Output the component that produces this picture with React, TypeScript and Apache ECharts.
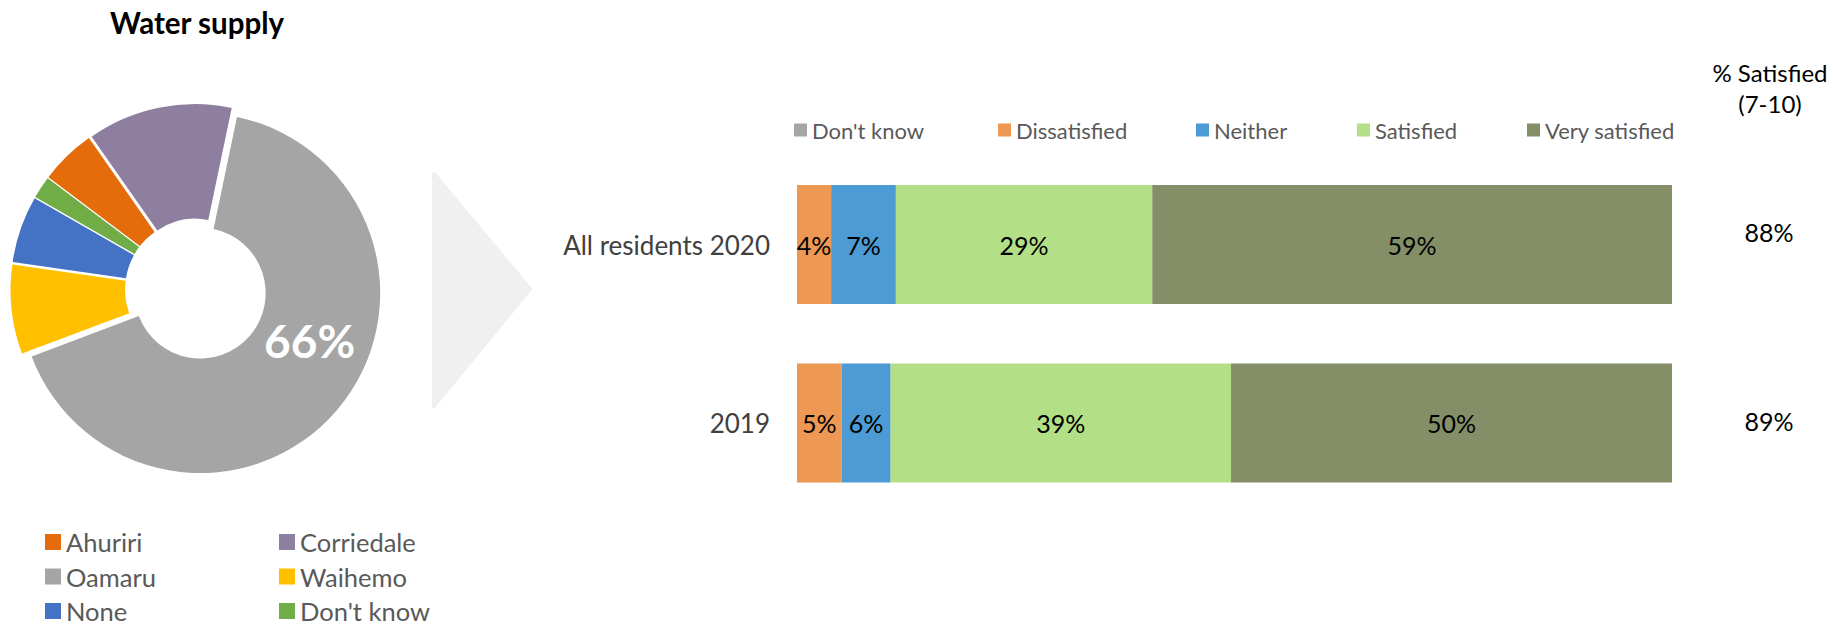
import React, { useEffect, useRef } from "react";
import * as echarts from "echarts";

// Donut: water supply area
const areaNames = ["Ahuriri", "Corriedale", "Oamaru", "Waihemo", "None", "Don't know"];
const areaValues = [5, 13, 66, 8, 6, 2];
const areaColors = ["#E46C0A", "#8E7FA1", "#A5A5A5", "#FFC000", "#4472C4", "#70AD47"];
const highlightArea = "Oamaru";

// Stacked bars: satisfaction
const groups = ["2019", "All residents 2020"];
const ratingNames = ["Don't know", "Dissatisfied", "Neither", "Satisfied", "Very satisfied"];
const dontKnow = [0, 0];
const dissatisfied = [5.1, 3.9];
const neither = [5.6, 7.4];
const satisfied = [38.9, 29.3];
const verySatisfied = [50.4, 59.4];
const ratingColors = ["#A5A5A5", "#ED9853", "#4C9BD4", "#B3DF86", "#848F68"];
const pctSatisfied = [89, 88];

const FONT = "Lato, 'Open Sans', sans-serif";

export default function App() {
  const ref = useRef<HTMLDivElement>(null);
  useEffect(() => {
    if (!ref.current) return;
    const chart = echarts.init(ref.current, undefined, { renderer: "svg" });
    const ratingData = [dontKnow, dissatisfied, neither, satisfied, verySatisfied];
    const hiIdx = areaNames.indexOf(highlightArea);

    const barLegendX = [794, 998, 1196, 1357, 1527];
    const barLegends = ratingNames.map((n, i) => ({
      show: true,
      selectedMode: false,
      left: barLegendX[i],
      top: 119,
      padding: 0,
      itemWidth: 13,
      itemHeight: 13,
      icon: "rect",
      data: [{ name: n, itemStyle: { color: ratingColors[i] } }],
      textStyle: { fontSize: 22, color: "#595959", fontFamily: FONT },
    }));
    const pieLegendCols = [
      { left: 45, idx: [0, 2, 4] },
      { left: 279, idx: [1, 3, 5] },
    ];
    const pieLegends = pieLegendCols.map((c) => ({
      show: true,
      selectedMode: false,
      orient: "vertical",
      left: c.left,
      top: 529,
      padding: 0,
      itemWidth: 16,
      itemHeight: 16,
      itemGap: 8.5,
      icon: "rect",
      data: c.idx.map((i) => ({ name: areaNames[i], itemStyle: { color: areaColors[i] } })),
      textStyle: { fontSize: 25.5, color: "#595959", fontFamily: FONT },
    }));

    const satY = [421, 232];

    chart.setOption({
      animation: false,
      textStyle: { fontFamily: FONT },
      legend: [...barLegends, ...pieLegends],
      grid: { left: 797, right: 161, top: 155.25, bottom: 112.75 },
      xAxis: { type: "value", min: 0, max: 100, show: false },
      yAxis: {
        type: "category",
        data: groups,
        axisLine: { show: false },
        axisTick: { show: false },
        axisLabel: { fontSize: 26, color: "#404040", margin: 27, fontFamily: FONT },
      },
      graphic: [
        {
          type: "polygon",
          shape: { points: [[434, 174], [530, 289], [434, 406]] },
          style: { fill: "#F0F0F0", stroke: "#F0F0F0", lineWidth: 4, lineJoin: "round" },
          silent: true,
        },
        {
          type: "text",
          x: 197,
          y: 22,
          style: {
            text: "Water supply",
            fontSize: 29.5,
            fontWeight: "bold",
            fill: "#000",
            fontFamily: FONT,
            align: "center",
            verticalAlign: "middle",
          },
        },
        {
          type: "text",
          x: 1770,
          y: 88,
          style: {
            text: "% Satisfied\n(7-10)",
            fontSize: 24,
            lineHeight: 31,
            fill: "#000",
            fontFamily: FONT,
            align: "center",
            verticalAlign: "middle",
          },
        },
        ...pctSatisfied.map((v, i) => ({
          type: "text",
          x: 1769,
          y: satY[i],
          style: {
            text: v + "%",
            fontSize: 25,
            fill: "#000",
            fontFamily: FONT,
            align: "center",
            verticalAlign: "middle",
          },
        })),
      ],
      series: [
        ...ratingNames.map((n, i) => ({
          type: "bar",
          name: n,
          stack: "total",
          barWidth: 119,
          data: ratingData[i],
          itemStyle: { color: ratingColors[i] },
          emphasis: { disabled: true },
          label: {
            show: i > 0,
            position: "inside",
            formatter: (p: any) => Math.round(p.value) + "%",
            fontSize: 25,
            color: "#000",
            fontFamily: FONT,
          },
        })),
        {
          type: "pie",
          name: "Water supply",
          center: [196, 289.5],
          radius: [65.5, 180],
          startAngle: 143,
          clockwise: true,
          selectedMode: "multiple",
          selectedOffset: 5.5,
          avoidLabelOverlap: false,
          emphasis: { disabled: true },
          select: { itemStyle: {} },
          label: { show: false },
          labelLine: { show: false },
          labelLayout: (p: any) => (p.dataIndex === hiIdx ? { dx: 14, dy: -34 } : {}),
          data: areaNames.map((n, i) => ({
            name: n,
            value: areaValues[i],
            selected: true,
            itemStyle: { color: areaColors[i] },
            select: { itemStyle: { color: areaColors[i] } },
            label:
              i === hiIdx
                ? {
                    show: true,
                    position: "inside",
                    formatter: "{c}%",
                    color: "#fff",
                    fontSize: 46,
                    fontWeight: "bold",
                    fontFamily: FONT,
                  }
                : { show: false },
          })),
        },
      ],
    });
    return () => chart.dispose();
  }, []);
  return (
    <div
      ref={ref}
      style={{ position: "absolute", left: 0, top: 0, width: 1833, height: 625 }}
    />
  );
}
